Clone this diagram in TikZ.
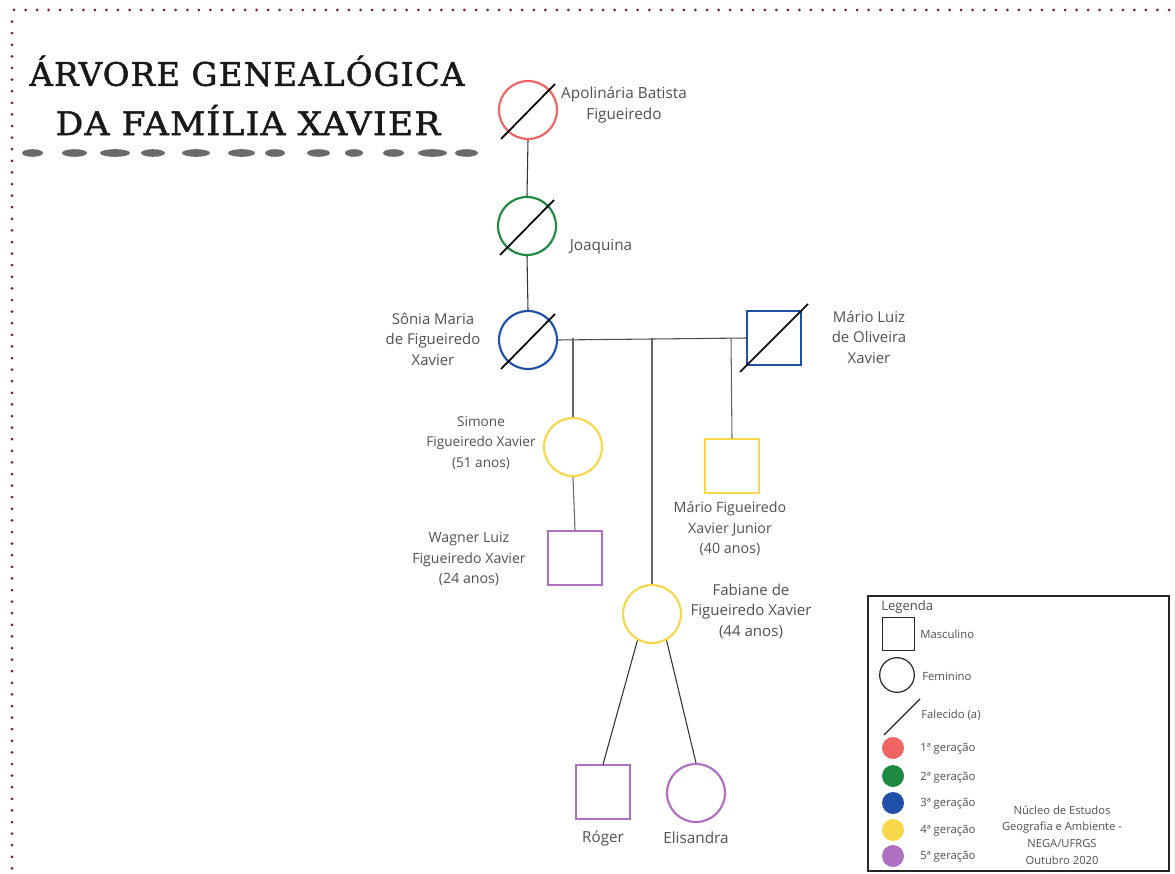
\documentclass[tikz,border=0pt]{standalone}
\usepackage{fontspec}
\setmainfont{Open Sans}
\newfontfamily\titlefont[LetterSpace=4,FakeBold=1.6]{DejaVu Serif}
\usetikzlibrary{calc}
\definecolor{gred}{HTML}{F06464}
\definecolor{ggreen}{HTML}{1E8A40}
\definecolor{gblue}{HTML}{1F50AA}
\definecolor{gyellow}{HTML}{F8D84A}
\definecolor{gpurple}{HTML}{B070C0}
\definecolor{dotred}{HTML}{7A1C22}
\definecolor{lbl}{HTML}{505050}
\definecolor{brush}{HTML}{6A6A6A}
\tikzset{
  fem/.style={circle,draw=#1,line width=1.6pt,minimum size=43.5pt,inner sep=0pt},
  mas/.style={rectangle,draw=#1,line width=1.3pt,minimum size=40pt,inner sep=0pt},
  lab/.style={align=center,text=lbl,font=\fontsize{#1}{15.4}\selectfont,inner sep=0pt},
  lab/.default=11.2,
  link/.style={draw=black!80,line width=0.8pt},
  dead/.style={draw=black,line width=1.3pt},
  leg/.style={anchor=west,text=lbl,font=\fontsize{8.5}{10}\selectfont,inner sep=0pt},
  gdot/.style={circle,fill=#1,minimum size=16.5pt,inner sep=0pt}
}
\begin{document}
\begin{tikzpicture}[x=0.75pt,y=-0.75pt]
\useasboundingbox (0,0) rectangle (1175,874);
% dotted border
\foreach \i in {0,...,100} {\fill[dotred] (14+11.55*\i,10) circle (1.5);}
\foreach \i in {1,...,74} {\fill[dotred] (12,10+11.6*\i) circle (1.5);}
% title
\node[font=\titlefont\fontsize{24.3}{30}\selectfont,text=black!90] (t1) at (247,71) {ÁRVORE GENEALÓGICA};
\node[font=\titlefont\fontsize{24.3}{30}\selectfont,text=black!90,xscale=1.06] (t2) at (248,120) {DA FAMÍLIA XAVIER};
% brush strokes
\foreach \a/\b in {22/43,62/87,100/130,141/165,182/210,228/255,265/285,307/330,345/363,383/404,418/447,455/478}
  {\fill[brush] ({(\a+\b)/2},153) ellipse ({(\b-\a)/2} and 3.8);}
% persons
\node[fem=gred] (apo) at (528,110) {};
\node[fem=ggreen] (joa) at (527,226) {};
\node[fem=gblue] (son) at (528,340) {};
\node[mas=gblue] (mar) at (774,338) {};
\node[fem=gyellow] (sim) at (573,447) {};
\node[mas=gyellow] (mjr) at (732,466) {};
\node[mas=gpurple] (wag) at (575,558) {};
\node[fem=gyellow] (fab) at (652,614) {};
\node[mas=gpurple] (rog) at (603,792) {};
\node[fem=gpurple] (eli) at (696,793) {};
% deceased slashes
\foreach \n in {apo,joa,son}
  {\draw[dead] ([shift={(-27,29)}]\n.center) -- ([shift={(27,-26)}]\n.center);}
\draw[dead] ([shift={(-34,34)}]mar.center) -- ([shift={(34,-34)}]mar.center);
% connectors
\draw[link] (apo.south) -- (joa.north);
\draw[link] (joa.south) -- (son.north);
\draw[link,black!70] (son.east) -- (mar.west);
\coordinate (d1) at (573,338);
\coordinate (d2) at (652,338);
\coordinate (d3) at (731,338);
\draw[link,black!60] (d1) -- (sim.north);
\draw[link,black!60] (d2) -- (fab.north);
\draw[link,black!60] (d3) -- (mjr.north);
\draw[link,black!60] (sim.south) -- (wag.north);
\draw[link,black!80] (fab.-119) -- (rog.north);
\draw[link,black!80] (fab.-61) -- (eli.north);
% labels
\node[lab=11.5] (l_apo) at (624,105) {Apolinária Batista\\Figueiredo};
\node[lab=11.5] (l_joa) at (601,247) {Joaquina};
\node[lab=11.2] (l_son) at (433,339) {Sônia Maria\\de Figueiredo\\Xavier};
\node[lab=11.2] (l_mar) at (869,337) {Mário Luiz\\de Oliveira\\Xavier};
\node[lab=10.2] (l_sim) at (481,443) {Simone\\Figueiredo Xavier\\(51 anos)};
\node[lab=10.7] (l_mjr) at (730,529) {Mário Figueiredo\\Xavier Junior\\(40 anos)};
\node[lab=10.6] (l_wag) at (469,559) {Wagner Luiz\\Figueiredo Xavier\\(24 anos)};
\node[lab=11.3] (l_fab) at (751,611) {Fabiane de\\Figueiredo Xavier\\(44 anos)};
\node[lab=11.4] (l_rog) at (603,838) {Róger};
\node[lab=11.5] (l_eli) at (696,838) {Elisandra};
% legend
\node[draw=black!85,line width=1.5pt,minimum width=225.75pt,minimum height=206.25pt,inner sep=0pt] (legbox) at (1018.5,733.5) {};
\node[leg,font=\fontsize{9.8}{11}\selectfont] (lg) at (881,607) {Legenda};
\node[rectangle,draw=black!85,line width=0.9pt,minimum size=24.5pt,inner sep=0pt] (lsq) at (898.5,634) {};
\node[leg] (lsqt) at (920,634) {Masculino};
\node[circle,draw=black!85,line width=0.9pt,minimum size=26pt,inner sep=0pt] (lci) at (897,675) {};
\node[leg] (lcit) at (922,676) {Feminino};
\coordinate (ls1) at (884,735);
\coordinate (ls2) at (920,699);
\draw[black!85,line width=0.9pt] (ls1) -- (ls2);
\node[leg] (lslt) at (921,715) {Falecido (a)};
\node[gdot=gred] (g1) at (893,748) {};
\node[gdot=ggreen] (g2) at (893,776) {};
\node[gdot=gblue] (g3) at (893,803) {};
\node[gdot=gyellow] (g4) at (893,830) {};
\node[gdot=gpurple] (g5) at (893,856) {};
\node[leg] (g1t) at (920,749) {1ª geração};
\node[leg] (g2t) at (920,778) {2ª geração};
\node[leg] (g3t) at (920,804) {3ª geração};
\node[leg] (g4t) at (920,831) {4ª geração};
\node[leg] (g5t) at (920,857) {5ª geração};
\node[lab,font=\fontsize{8.4}{12.4}\selectfont] (nega) at (1062,835) {Núcleo de Estudos\\Geografia e Ambiente -\\NEGA/UFRGS\\Outubro 2020};
\end{tikzpicture}
\end{document}
